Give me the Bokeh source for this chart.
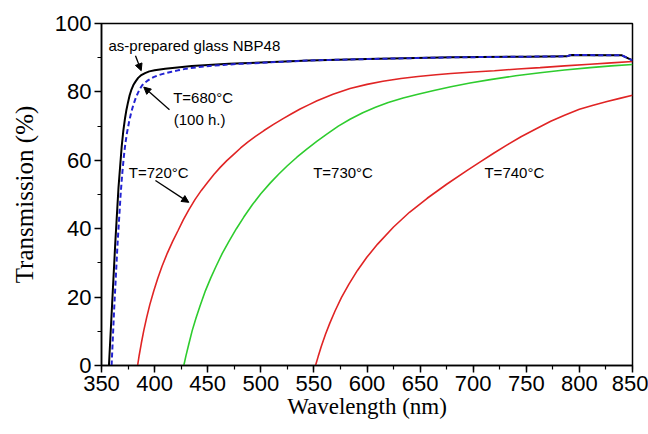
from bokeh.plotting import figure
from bokeh.models import Range1d, SingleIntervalTicker, Arrow, NormalHead, Label
from bokeh.embed import file_html
from bokeh.resources import INLINE

# ---- data ----
asprep_wl = [357, 360, 363, 366, 369, 370.5, 372, 373.5, 375, 376.5, 378, 380, 382, 384.5, 387, 391, 395, 400, 410,
             435, 470, 500, 545, 600, 680, 750, 788, 792, 840, 850]
asprep_T = [0, 18, 36, 52, 64, 68.5, 72, 74.8, 77, 79, 80.5, 82, 83, 84.1, 84.8, 85.5, 86, 86.3, 86.8,
            87.6, 88.2, 88.6, 89.2, 89.6, 90.1, 90.3, 90.4, 90.8, 90.7, 89.2]

t680_wl = [359.5, 362, 365, 368, 369.5, 371, 372.5, 374, 376, 378, 380, 382, 384, 386, 388, 390, 393, 396, 399, 403,
           407, 412, 416, 422, 430, 440, 452, 465, 480, 500, 545, 600, 680, 750, 788, 792, 840, 850]
t680_T = [0, 17, 35, 50, 56, 61, 65, 68, 71.3, 74, 76.2, 78, 79.5, 80.8, 81.8, 82.5, 83.2, 83.8, 84.3, 84.8,
          85.2, 85.6, 85.9, 86.3, 86.8, 87.2, 87.6, 87.9, 88.2, 88.5, 89.2, 89.6, 90.1, 90.3, 90.4, 90.8, 90.7, 89.2]

t720_wl = [384, 385.5, 387.5, 389.8, 392.5, 395.5, 399.2, 403, 407, 411.9, 417, 422, 427, 432.2, 438, 444, 450, 456,
           462, 468, 475, 481, 488, 495, 503, 512, 521, 529, 537, 545, 553, 568, 584, 600, 615, 632, 648, 665, 679,
           700, 720, 742, 763, 786, 810, 830, 850]
t720_T = [0, 3.0, 6.5, 10.2, 14.0, 17.8, 21.8, 25.5, 29.0, 32.8, 36.3, 39.4, 42.6, 45.5, 48.5, 51.2, 53.6, 55.9,
          58.0, 59.9, 61.9, 63.6, 65.4, 67.0, 68.7, 70.5, 72.2, 73.6, 75.0, 76.2, 77.4, 79.3, 81.0, 82.2, 83.1, 83.9,
          84.5, 85.0, 85.4, 85.8, 86.2, 86.7, 87.1, 87.6, 88.1, 88.5, 88.9]

t730_wl = [427.5, 429.5, 432, 435.4, 439, 443, 447.9, 453, 458, 463.6, 470, 477, 484, 492, 500, 509, 517, 525, 534,
           543, 553, 562.5, 573, 584, 596, 608, 620, 634, 648, 663, 679, 697, 716, 740, 763, 786, 810, 830, 850]
t730_T = [0, 2.8, 6.0, 10.2, 13.9, 17.6, 21.9, 25.7, 29.1, 32.7, 36.3, 40.0, 43.4, 47.0, 50.2, 53.4, 56.0, 58.4,
          60.9, 63.2, 65.6, 67.7, 70.0, 72.0, 73.9, 75.5, 76.9, 78.2, 79.3, 80.4, 81.5, 82.6, 83.6, 84.7, 85.6,
          86.4, 87.1, 87.6, 88.0]

t740_wl = [551.5, 554, 557, 561, 565, 570, 576, 583, 591, 600, 610, 625, 640, 656.7, 675, 694, 707, 720, 732, 745,
           758, 773, 786, 800, 813, 826, 838, 850]
t740_T = [0, 2.6, 5.6, 9.2, 12.4, 16.0, 19.9, 23.8, 27.8, 31.7, 35.5, 40.5, 44.8, 48.9, 53.0, 57.0, 59.6, 62.2,
          64.5, 66.9, 69.0, 71.4, 73.2, 74.9, 76.1, 77.2, 78.1, 79.0]

x_label = "Wavelength (nm)"
y_label = "Transmission (%)"

p = figure(frame_width=531, frame_height=342, output_backend="svg", toolbar_location=None,
           x_range=Range1d(350, 850), y_range=Range1d(0, 100),
           min_border_left=101, min_border_top=23, min_border_right=16, min_border_bottom=69,
           background_fill_color="white", border_fill_color="white")

p.xgrid.visible = False
p.ygrid.visible = False
p.outline_line_color = "black"
p.outline_line_width = 1.5
p.outline_line_alpha = 1.0

p.xaxis.ticker = SingleIntervalTicker(interval=50, num_minor_ticks=2)
p.yaxis.ticker = SingleIntervalTicker(interval=20, num_minor_ticks=2)
for ax in (p.xaxis, p.yaxis):
    ax.axis_line_width = 1.5
    ax.axis_line_color = "black"
    ax.major_tick_line_color = "black"
    ax.minor_tick_line_color = "black"
    ax.major_tick_line_width = 1.5
    ax.minor_tick_line_width = 1.2
    ax.major_tick_out = 7
    ax.major_tick_in = 0
    ax.minor_tick_out = 4
    ax.minor_tick_in = 0
    ax.major_label_text_font = "Liberation Sans"
    ax.major_label_text_font_size = "22px"
    ax.major_label_text_color = "black"
    ax.major_label_standoff = 3
    ax.axis_label_text_font = "Liberation Serif"
    ax.axis_label_text_font_style = "normal"
    ax.axis_label_text_color = "black"

p.xaxis.axis_label = x_label
p.yaxis.axis_label = y_label
p.xaxis.axis_label_text_font_size = "23px"
p.yaxis.axis_label_text_font_size = "25px"
p.xaxis.axis_label_standoff = 0
p.yaxis.axis_label_standoff = 14

p.line(t740_wl, t740_T, line_color="#e02424", line_width=1.6)
p.line(t730_wl, t730_T, line_color="#2ecc2e", line_width=1.6)
p.line(t720_wl, t720_T, line_color="#e02424", line_width=1.6)
p.line(asprep_wl, asprep_T, line_color="black", line_width=2)
p.line(t680_wl, t680_T, line_color="#2323d2", line_width=2, line_dash="5 3")

font = "Liberation Sans"
fs = "15px"
def lab(x, y, t):
    p.add_layout(Label(x=x, y=y, text=t, text_font=font, text_font_size=fs,
                       text_color="black", text_align="left", text_baseline="middle"))

lab(356.6, 93.6, "as-prepared glass NBP48")
lab(417.5, 78.3, "T=680°C")
lab(418, 71.8, "(100 h.)")
lab(375.7, 56.5, "T=720°C")
lab(549.3, 56.5, "T=730°C")
lab(710.6, 56.5, "T=740°C")

def arr(x0, y0, x1, y1):
    p.add_layout(Arrow(end=NormalHead(size=7, fill_color="black", line_color="black"),
                       x_start=x0, y_start=y0, x_end=x1, y_end=y1,
                       line_color="black", line_width=1.3))

arr(382, 90.6, 387.4, 86.2)
arr(414, 74.8, 389.8, 81.4)
arr(400.8, 54.1, 432.2, 47.7)

open("out.html", "w").write(file_html(p, INLINE))
